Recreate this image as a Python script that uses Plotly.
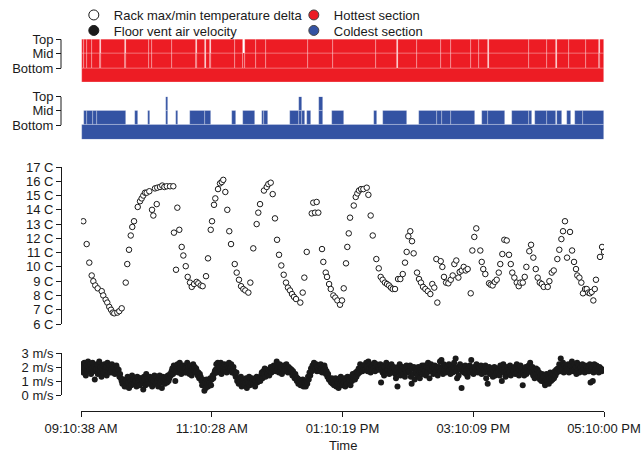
import datetime as dt
import plotly.graph_objects as go

# ---------------- data ----------------
tick_labels = ["09:10:38 AM", "11:10:28 AM", "01:10:19 PM", "03:10:09 PM", "05:10:00 PM"]

# Rack max/min temperature delta (minutes after 09:10:38, degrees C)
temp_min = [2.1, 5.2, 7.6, 9.8, 11.3, 13.1, 15.3, 19.0, 20.4, 22.6, 24.1, 25.9, 27.5, 29.1, 30.5,
            33.3, 35.1, 37.3, 41.0, 42.4, 44.0, 45.6, 47.0, 48.6, 52.0, 54.1, 55.6, 57.1, 58.7,
            60.2, 62.6, 65.1, 66.3, 67.8, 69.4, 69.9, 72.4, 74.5, 76.4, 78.6, 81.6, 84.6, 85.2,
            87.1, 88.3, 90.1, 92.3, 93.8, 96.0, 97.8, 99.9, 101.5, 103.6, 106.0, 107.5, 109.7,
            111.5, 114.6, 116.4, 118.9, 120.1, 121.9, 123.1, 125.6, 127.4, 129.0, 130.4, 132.3,
            134.1, 135.9, 137.5, 140.9, 142.7, 144.8, 146.7, 148.8, 150.6, 153.4, 155.2, 157.9,
            161.0, 162.5, 164.1, 167.7, 170.2, 171.7, 173.9, 175.7, 177.8, 179.7, 181.5, 183.6,
            185.8, 187.9, 189.7, 191.6, 193.4, 195.2, 197.1, 201.0, 203.2, 204.7, 206.9, 211.5,
            212.9, 214.5, 216.0, 217.5, 220.9, 222.1, 224.3, 225.5, 227.4, 228.9, 231.3, 233.1,
            235.0, 237.4, 239.2, 240.8, 242.9, 244.1, 245.4, 246.6, 250.0, 251.8, 253.3, 254.8,
            256.7, 258.8, 261.9, 263.4, 265.5, 267.4, 270.7, 272.9, 274.7, 276.5, 278.6, 280.5,
            282.3, 284.1, 285.7, 287.8, 290.6, 292.7, 294.9, 297.0, 298.5, 300.0, 301.8, 303.4,
            304.9, 308.0, 309.8, 311.6, 313.5, 315.6, 317.8, 320.2, 322.0, 323.8, 325.7, 326.6,
            329.7, 331.2, 332.7, 334.6, 336.7, 338.9, 340.7, 342.2, 344.0, 345.9, 347.1, 349.0,
            350.8, 352.6, 354.4, 357.2, 358.7, 360.5, 362.3, 366.0, 367.3, 368.7, 370.6, 374.0,
            375.5, 377.3, 379.2, 381.0, 382.9, 384.3, 386.2, 388.0, 390.2, 392.3, 393.9, 395.3,
            397.2, 399.4, 401.2, 402.7, 404.9, 406.7, 408.2, 410.9, 412.5, 414.6, 416.8, 418.6,
            420.5, 422.3, 424.1, 427.8, 429.3, 431.5, 433.3, 436.6, 438.4, 440.3, 441.8, 443.6,
            445.5, 448.2, 450.1, 451.9, 453.7, 454.9, 456.8, 458.6, 460.1, 462.0, 463.5, 465.0,
            466.5, 468.1, 469.6, 470.9, 472.0, 475.7, 477.6, 479.4]
temp_c = [13.2, 11.6, 10.3, 9.4, 9.0, 8.7, 8.5, 8.3, 8.0, 7.7, 7.5, 7.2, 7.0, 6.8, 6.75,
          6.8, 6.9, 7.1, 8.9, 10.2, 11.2, 12.2, 12.8, 13.2, 14.2, 14.6, 14.8, 15.0, 15.2,
          15.2, 15.3, 14.0, 13.6, 15.5, 14.4, 15.55, 15.6, 15.7, 15.6, 15.65, 15.65, 15.65, 12.4,
          9.8, 14.15, 12.6, 11.4, 10.8, 10.05, 9.3, 8.9, 8.6, 8.8, 8.95, 8.85, 8.7,
          8.65, 9.35, 10.6, 12.6, 13.2, 14.35, 14.8, 15.45, 15.85, 15.95, 16.1, 15.25,
          14.0, 12.5, 11.6, 10.2, 9.6, 9.1, 8.65, 8.45, 8.35, 8.2, 8.9, 11.3,
          13.0, 13.8, 14.4, 15.35, 15.6, 15.8, 15.9, 15.1, 13.4, 11.9, 10.85, 10.1,
          9.45, 8.9, 8.55, 8.35, 8.1, 7.9, 7.75, 7.5, 8.2, 9.25, 11.05, 13.75,
          14.5, 13.8, 14.55, 13.8, 11.25, 10.35, 9.6, 9.3, 8.8, 8.45, 8.0, 7.85,
          7.65, 7.35, 7.65, 8.5, 10.25, 11.4, 12.35, 13.45, 14.3, 14.9, 15.15, 15.35,
          15.45, 15.45, 15.55, 15.05, 13.6, 12.2, 10.55, 9.9, 9.3, 9.1, 8.9, 8.8,
          8.7, 8.55, 8.45, 8.45, 9.15, 9.15, 9.5, 10.3, 11.05, 12.15, 12.5, 11.8,
          10.95, 9.6, 9.15, 8.9, 8.6, 8.45, 8.3, 8.1, 8.8, 8.55, 10.55, 7.5,
          10.4, 10.0, 9.3, 8.9, 8.85, 9.1, 9.4, 10.2, 10.45, 9.25, 9.65, 9.75,
          10.0, 9.75, 9.85, 8.15, 11.15, 12.1, 12.7, 11.15, 10.35, 9.85, 9.5, 8.85,
          8.75, 8.7, 8.95, 9.1, 9.6, 10.2, 10.9, 11.9, 11.85, 10.85, 10.2, 9.6,
          9.25, 8.9, 8.65, 8.9, 8.9, 9.3, 10.0, 11.1, 11.55, 10.65, 9.85, 9.25,
          8.9, 8.8, 8.6, 8.6, 9.0, 9.6, 9.75, 10.55, 11.2, 11.95, 12.5, 13.2,
          10.65, 12.45, 11.15, 10.35, 9.85, 9.4, 9.25, 8.9, 8.15, 8.45, 8.45, 8.2,
          8.15, 8.25, 7.65, 8.45, 9.1, 10.7, 11.4, 11.05]

# Floor vent air velocity (m/s), one reading every 41 s from 20 s after start
vel_first_s = 20
vel_step_s = 41
vel_ms = [
    2.2, 1.8, 2.0, 1.6, 2.3, 1.9, 1.4, 2.1, 1.7, 2.4, 2.0, 1.8, 2.2, 1.5, 1.9, 2.3, 1.7, 2.0, 1.1, 1.8,
    1.9, 2.2, 1.5, 1.8, 2.4, 1.7, 2.0, 1.3, 1.9, 2.1, 1.6, 2.2, 1.8, 2.0, 1.4, 2.3, 1.7, 1.9, 2.1, 1.6,
    1.8, 2.2, 1.6, 2.0, 1.9, 1.5, 1.7, 2.1, 1.9, 1.6, 1.8, 1.3, 1.5, 1.2, 1.0, 0.8, 1.1, 0.9, 0.6, 1.0,
    1.1, 0.6, 1.3, 0.9, 0.5, 1.2, 1.0, 0.7, 1.4, 0.9, 1.1, 0.8, 1.2, 1.0, 0.6, 1.3, 0.9, 1.1, 0.7, 1.2,
    1.2, 0.8, 1.0, 0.4, 1.3, 1.1, 0.7, 1.5, 0.9, 1.2, 1.0, 0.8, 1.3, 0.9, 1.1, 0.6, 1.2, 1.0, 1.4, 0.9,
    0.8, 1.3, 1.0, 0.6, 1.2, 1.4, 0.9, 1.1, 0.5, 1.3, 1.0, 1.2, 0.8, 1.1, 1.3, 0.9, 1.4, 1.0, 1.2, 1.5,
    1.4, 1.7, 1.9, 1.5, 2.1, 1.8, 1.0, 2.0, 1.7, 2.2, 1.6, 1.9, 2.3, 1.8, 1.5, 2.0, 1.7, 2.1, 1.9, 1.6,
    1.9, 1.6, 2.3, 1.8, 2.0, 1.5, 2.1, 1.7, 1.4, 1.9, 2.2, 1.8, 2.0, 1.6, 1.9, 1.7, 1.4, 1.6, 1.2, 1.5,
    1.3, 1.0, 0.7, 1.1, 0.8, 0.3, 0.9, 0.5, 1.1, 0.8, 0.6, 1.0, 0.9, 1.2, 0.7, 1.1, 1.4, 1.2, 1.5, 1.7,
    1.8, 2.2, 1.6, 2.3, 1.9, 2.0, 1.7, 2.3, 1.5, 2.1, 1.9, 1.7, 2.2, 1.8, 2.0, 1.6, 2.1, 1.9, 2.3, 1.8,
    1.9, 2.2, 1.6, 1.8, 2.0, 1.7, 1.5, 1.3, 1.6, 1.0, 1.2, 0.8, 1.1, 0.9, 1.3, 0.6, 1.0, 0.8, 1.1, 0.7,
    0.9, 1.2, 0.5, 1.0, 0.8, 1.3, 0.7, 1.1, 0.9, 1.2, 1.0, 0.8, 1.1, 0.6, 1.0, 1.3, 0.9, 1.2, 1.0, 1.1,
    1.0, 1.4, 1.6, 1.2, 1.7, 1.5, 1.9, 1.3, 1.8, 1.6, 1.5, 1.8, 1.4, 1.7, 2.0, 1.6, 1.9, 1.7, 2.1, 1.8,
    2.0, 1.7, 2.4, 1.9, 2.1, 1.6, 2.2, 1.8, 2.0, 1.5, 1.9, 2.1, 1.7, 2.0, 1.8, 2.2, 1.9, 1.6, 2.0, 1.8,
    1.9, 1.6, 1.8, 1.4, 1.7, 1.5, 1.2, 1.5, 1.3, 1.0, 1.2, 0.8, 1.1, 0.9, 0.7, 1.0, 0.8, 1.1, 0.6, 0.9,
    0.9, 0.6, 1.0, 0.8, 1.3, 1.1, 1.6, 1.4, 1.9, 1.7, 2.1, 1.8, 2.3, 2.0, 1.9, 2.2, 1.7, 2.0, 1.8, 2.1,
    1.7, 2.2, 1.9, 1.6, 2.0, 1.8, 2.1, 1.9, 1.5, 1.7, 1.3, 1.5, 1.1, 1.2, 1.0, 0.9, 1.2, 0.8, 1.0, 0.7,
    0.8, 1.2, 0.6, 1.0, 0.9, 0.5, 1.1, 0.8, 1.3, 1.0, 0.7, 1.1, 0.9, 1.2, 0.6, 1.0, 0.8, 1.3, 1.1, 0.9,
    1.1, 0.7, 1.3, 1.0, 1.5, 1.2, 1.4, 1.1, 1.6, 1.3, 1.7, 1.5, 1.9, 1.6, 2.2, 1.8, 2.0, 1.7, 2.1, 1.9,
    2.1, 1.8, 2.3, 2.0, 1.7, 2.4, 1.9, 2.2, 1.6, 2.0, 1.8, 2.1, 1.9, 2.3, 1.7, 2.0, 2.2, 1.8, 2.0, 1.9,
    1.8, 2.2, 0.9, 1.9, 1.6, 2.1, 1.4, 2.0, 1.7, 2.3, 1.9, 1.8, 2.1, 1.5, 2.0, 1.7, 2.2, 1.9, 1.6, 2.0,
    1.9, 1.5, 1.2, 1.8, 0.6, 2.0, 1.6, 2.2, 1.4, 1.8, 1.7, 2.0, 1.5, 1.9, 1.3, 1.8, 2.1, 1.6, 1.9, 1.7,
    1.7, 2.1, 1.3, 0.8, 1.9, 1.5, 2.0, 1.1, 1.8, 1.6, 1.9, 1.4, 2.0, 1.7, 1.2, 1.8, 1.6, 2.1, 1.5, 1.9,
    2.1, 1.7, 1.4, 2.0, 1.6, 2.3, 1.9, 1.2, 1.8, 2.2, 1.7, 2.0, 1.5, 1.9, 2.1, 1.6, 1.8, 2.0, 1.4, 1.9,
    2.0, 2.4, 1.7, 2.5, 1.9, 1.5, 2.2, 1.8, 2.1, 1.6, 1.9, 2.0, 1.7, 2.2, 1.8, 1.5, 2.1, 1.9, 1.6, 2.0,
    2.3, 1.9, 2.6, 1.7, 1.2, 2.0, 1.4, 1.9, 2.2, 1.8, 0.5, 1.7, 2.0, 1.6, 1.9, 2.1, 1.5, 1.8, 1.3, 1.9,
    1.7, 2.1, 1.6, 2.5, 1.9, 1.8, 1.5, 2.0, 1.7, 1.9, 2.2, 1.8, 1.6, 2.0, 1.9, 1.7, 2.1, 1.5, 1.8, 1.9,
    1.8, 1.6, 2.1, 1.2, 1.9, 0.8, 1.7, 2.0, 1.5, 1.8, 1.6, 1.9, 1.3, 1.7, 2.0, 1.4, 1.8, 1.6, 1.9, 1.7,
    1.9, 1.4, 2.1, 1.7, 1.0, 1.8, 2.2, 1.6, 1.9, 1.3, 1.7, 2.0, 1.5, 1.8, 1.6, 2.1, 1.4, 1.9, 1.7, 1.8,
    1.7, 2.0, 1.5, 1.8, 2.2, 1.6, 1.9, 1.4, 1.8, 2.1, 1.7, 1.9, 0.7, 1.6, 1.4, 1.8, 2.0, 1.5, 1.7, 1.9,
    2.1, 1.7, 2.3, 1.9, 1.6, 2.0, 1.4, 1.8, 1.2, 1.7, 1.9, 1.5, 1.8, 1.3, 1.6, 1.1, 1.4, 1.0, 1.5, 1.2,
    1.3, 0.9, 0.7, 1.1, 1.5, 1.0, 1.4, 0.8, 1.2, 1.6, 1.0, 1.3, 1.1, 1.5, 1.2, 1.7, 1.4, 1.8, 1.6, 1.9,
    1.9, 2.2, 1.7, 2.6, 2.0, 1.8, 2.3, 1.6, 2.1, 1.9, 1.7, 2.0, 1.8, 2.2, 1.6, 1.9, 2.1, 1.7, 2.4, 1.8,
    1.7, 2.2, 1.9, 2.0, 1.5, 2.3, 1.8, 2.1, 1.6, 1.9, 2.0, 1.7, 2.2, 1.8, 1.9, 1.6, 2.1, 1.8, 2.0, 1.7,
    1.9, 1.7, 2.2, 0.9, 1.8, 2.0, 1.0, 1.6, 2.2, 1.8, 1.9, 2.1, 1.7, 1.9, 1.6, 2.0, 1.8, 1.9, 1.7, 1.8,
]

# Hottest / coldest section (1 = Bottom, 2 = Mid, 3 = Top): run start minute and level
section_end_min = 479.4
hot_start_min = [0.9, 2.7, 5.8, 9.8, 17.0, 18.0, 40.3, 41.2, 62.3, 65.4,
                 83.1, 105.6, 106.5, 113.9, 114.8, 117.8, 118.7, 141.2, 148.9, 149.9,
                 160.4, 169.3, 208.3, 231.3, 270.1, 289.5, 290.4, 307.7, 329.7, 338.9,
                 357.2, 364.8, 372.9, 373.8, 410.9, 427.4, 435.6, 436.5, 447.6, 462.9,
                 474.6, 475.5]
hot_level = [3, 3, 3, 3, 2, 3, 2, 3, 3, 3,
             3, 2, 3, 1, 3, 2, 3, 3, 2, 3,
             3, 3, 3, 3, 3, 1, 3, 3, 3, 3,
             3, 3, 1, 3, 3, 3, 1, 3, 3, 3,
             2, 3]
cold_start_min = [0.9, 2.7, 5.8, 11.3, 14.4, 41.2, 49.5, 52.5, 61.1, 63.2, 77.9, 80.0, 86.8, 89.2,
                  99.9, 113.7, 119.2, 138.7, 141.8, 148.2, 159.5, 165.6, 168.0, 171.1, 191.6,
                  199.8, 202.3, 205.3, 207.4, 210.5, 218.4, 221.5, 229.8, 241.3, 268.6, 271.6,
                  276.5, 299.1, 309.8, 326.6, 330.6, 338.9, 361.1, 367.3, 373.3, 388.9, 395.1,
                  410.9, 413.1, 416.1, 426.9, 427.4, 435.4, 436.6, 440.9, 445.2, 448.9, 452.8,
                  460.4]
cold_level = [1, 2, 2, 2, 2, 1, 2, 1, 2, 1, 3, 1, 2, 1,
              2, 2, 1, 2, 1, 2, 1, 2, 2, 1, 2,
              3, 2, 1, 2, 1, 3, 1, 2, 1, 2, 1,
              2, 1, 2, 2, 2, 2, 1, 2, 2, 1, 2,
              2, 1, 2, 1, 2, 1, 2, 1, 2, 1, 2,
              2]

section_names = ["Bottom", "Mid", "Top"]
legend_row1 = ["Rack max/min temperature delta", "Hottest section"]
legend_row2 = ["Floor vent air velocity", "Coldest section"]

# ---------------- helpers ----------------
BASE_DAY = "2000-01-01 "
tick_times = [dt.datetime.strptime(BASE_DAY + t, "%Y-%m-%d %I:%M:%S %p") for t in tick_labels]
t0 = tick_times[0]


def at_min(m):
    return t0 + dt.timedelta(minutes=m)


RED = "#ED1C24"
BLUE = "#3453A3"
INK = "#1a1a1a"
FONT = "Liberation Sans"

fig = go.Figure()


def add_strip(starts, levels, color, yaxis):
    ends = starts[1:] + [section_end_min]
    for row in (1, 2, 3):
        xs, ws = [], []
        if row == 1:
            segs = [(starts[0], ends[-1])]
        else:
            segs = [(s, e) for s, e, lv in zip(starts, ends, levels) if lv >= row]
        for s, e in segs:
            xs.append(at_min((s + e) / 2))
            ws.append((e - s) * 60000.0)
        fig.add_trace(go.Bar(
            x=xs, y=[1] * len(xs), base=[row - 1] * len(xs), width=ws,
            marker=dict(color=color, line=dict(color="rgba(255,255,255,0.45)", width=0.6)),
            xaxis="x", yaxis=yaxis, showlegend=False, hoverinfo="skip"))


add_strip(hot_start_min, hot_level, RED, "y")
add_strip(cold_start_min, cold_level, BLUE, "y2")

fig.add_trace(go.Scatter(
    x=[at_min(m) for m in temp_min], y=temp_c, mode="markers",
    marker=dict(symbol="circle", size=5.5, color="white", line=dict(color=INK, width=1)),
    xaxis="x", yaxis="y3", showlegend=False))

vel_t = [t0 + dt.timedelta(seconds=vel_first_s + i * vel_step_s) for i in range(len(vel_ms))]
fig.add_trace(go.Scatter(
    x=vel_t, y=vel_ms, mode="markers",
    marker=dict(symbol="circle", size=6, color=INK, line=dict(width=0)),
    xaxis="x", yaxis="y4", showlegend=False))

# legend-only entries (two legend rows)
styles_row1 = [dict(color="white", line=dict(color=INK, width=1)),
               dict(color=RED, line=dict(color="#444", width=1))]
styles_row2 = [dict(color=INK, line=dict(color=INK, width=1)),
               dict(color=BLUE, line=dict(color="#444", width=1))]
for names, styles, lg in ((legend_row1, styles_row1, "legend"), (legend_row2, styles_row2, "legend2")):
    for name, st in zip(names, styles):
        fig.add_trace(go.Scatter(x=[None], y=[None], mode="markers", name=name, legend=lg,
                                 marker=dict(symbol="circle", size=10, **st),
                                 xaxis="x", yaxis="y3"))

H = 455.0
W_PLOT = 543.0


def py(p):  # pixel row -> paper fraction
    return (H - p) / H


tick_font = dict(family=FONT, size=13, color=INK)
common_y = dict(anchor="free", position=0, ticks="outside", ticklen=5, tickwidth=1,
                tickcolor=INK, tickfont=tick_font, zeroline=False, showgrid=False,
                automargin=False, fixedrange=True)
legend_common = dict(orientation="h", xanchor="left", yanchor="top",
                     entrywidth=175, entrywidthmode="pixels",
                     font=dict(family=FONT, size=13, color=INK),
                     bgcolor="rgba(0,0,0,0)", itemclick=False, tracegroupgap=0)

fig.update_layout(
    width=641, height=455,
    margin=dict(l=61, r=37, t=0, b=0),
    paper_bgcolor="white", plot_bgcolor="white",
    font=dict(family=FONT, size=13, color=INK),
    barmode="overlay", bargap=0,
    showlegend=True,
    legend=dict(x=0.0236, y=1.0, **legend_common),
    legend2=dict(x=0.0236, y=py(15.5), **legend_common),
    xaxis=dict(type="date", domain=[20 / W_PLOT, 1.0], anchor="free", position=py(411),
               range=[tick_times[0], tick_times[-1]], tickvals=tick_times, ticktext=tick_labels,
               showline=True, linecolor=INK, linewidth=1, ticks="outside", ticklen=5,
               tickcolor=INK, tickfont=tick_font, showgrid=False, zeroline=False,
               automargin=False),
    yaxis=dict(domain=[py(82.7), py(39.3)], range=[0, 3], tickvals=[1, 2, 3],
               ticktext=section_names, showline=False, **common_y),
    yaxis2=dict(domain=[py(139.3), py(96.7)], range=[0, 3], tickvals=[1, 2, 3],
                ticktext=section_names, showline=False, **common_y),
    yaxis3=dict(domain=[py(324), py(167)], range=[6, 17], dtick=1, tick0=6, ticksuffix=" C",
                showline=True, linecolor=INK, linewidth=1, **common_y),
    yaxis4=dict(domain=[py(395), py(353)], range=[0, 3], dtick=1, tick0=0, ticksuffix=" m/s",
                showline=True, linecolor=INK, linewidth=1, **common_y),
)

# bracket-style axis lines for the section strips (from Bottom to Top tick)
for yref in ("y", "y2"):
    fig.add_shape(type="line", xref="paper", yref=yref, x0=0, x1=0, y0=1, y1=3,
                  line=dict(color=INK, width=1))

fig.add_annotation(text="Time", xref="paper", yref="paper", x=(20 / W_PLOT + 1) / 2,
                   y=py(445), showarrow=False, font=dict(family=FONT, size=13, color=INK),
                   xanchor="center", yanchor="middle")

fig.write_html("out.html", config={"displayModeBar": False},
               post_script="document.body.style.margin='0';document.body.style.overflow='hidden';")
